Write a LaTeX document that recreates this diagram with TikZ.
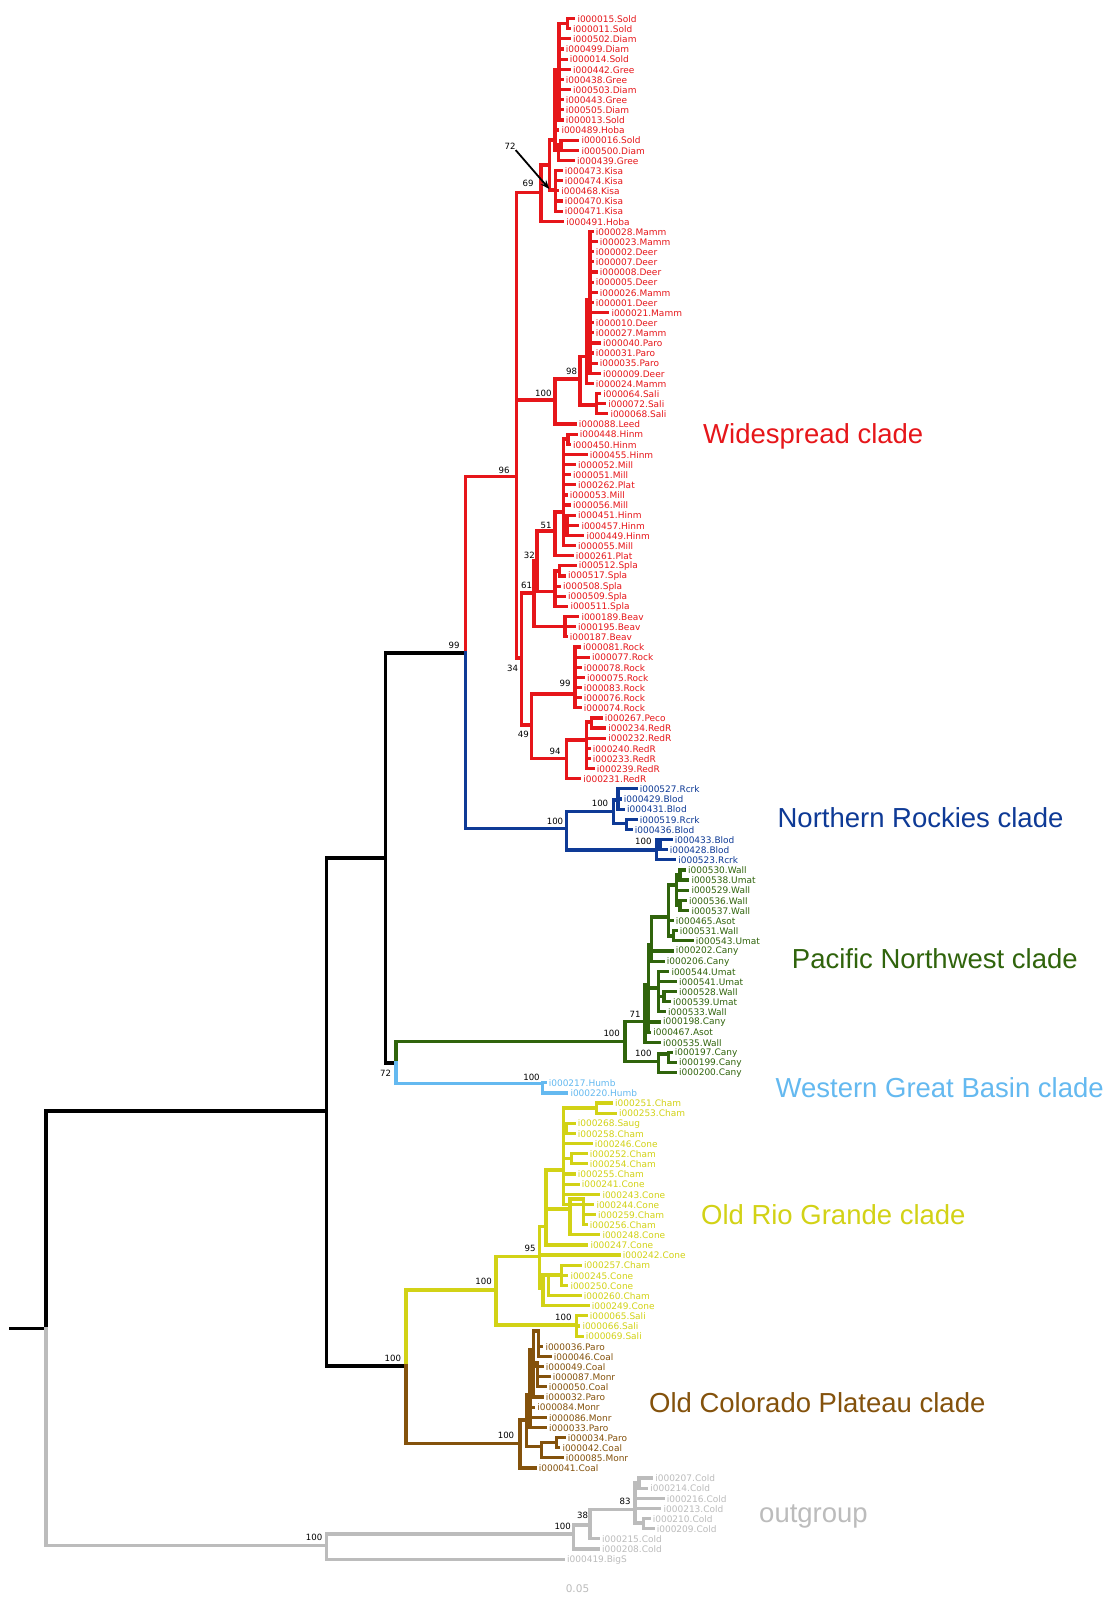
\documentclass[tikz,border=0pt]{standalone}
\usepackage{fontspec}
\usetikzlibrary{arrows.meta}
\newfontfamily\tipf{DejaVu Sans}
\newfontfamily\cladef{Liberation Sans}
\definecolor{cred}{RGB}{230,22,26}
\definecolor{cblue}{RGB}{14,58,150}
\definecolor{cgreen}{RGB}{48,100,12}
\definecolor{clblue}{RGB}{100,185,240}
\definecolor{cyel}{RGB}{210,210,22}
\definecolor{cbrown}{RGB}{132,82,12}
\definecolor{cgray}{RGB}{188,188,188}
\pgfmathdeclarefunction{ty}{1}{\pgfmathparse{18.6+(#1-1)*10.135}}
\tikzset{
  br/.style={line width=3.2pt, line cap=rect},
  tl/.style={anchor=west, inner sep=0pt, font=\tipf\fontsize{9}{9}\selectfont},
  bs/.style={inner sep=0pt, text=black, font=\tipf\fontsize{8.6}{9}\selectfont},
  cl/.style={anchor=base west, inner sep=0pt, font=\cladef\fontsize{27.5}{30}\selectfont}
}
\newcommand\TreeNd[4]{\coordinate (#1) at (#3,#4); \draw[br] (#2) |- (#1);}
\newcommand\TreeTp[4]{\coordinate (t#1) at (#3,{ty(#1)}); \draw[br] (#2) |- (t#1);
  \node[tl] (l#1) at ([xshift=3.6pt,yshift=-0.4pt]t#1) {#4};}
\begin{document}
\begin{tikzpicture}[x=1pt,y=-1pt]
\fill[white] (0,0) rectangle (1113,1600);
\useasboundingbox (0,0) rectangle (1113,1600);
% ---------- backbone (black)
\begin{scope}[black]
\coordinate (RS) at (10.2,1328.3);
\coordinate (RT) at (45.9,1328.3);
\draw[br] (RS) -- (RT);
\TreeNd{N1}{RT}{326.5}{1111}
\TreeNd{N2}{N1}{385.6}{858}
\TreeNd{N3}{N1}{406}{1366}
\TreeNd{N99}{N2}{465.2}{653}
\TreeNd{N72}{N2}{396}{1063}
\end{scope}
% ---------- red
\begin{scope}[cred]
\TreeNd{R96}{N99}{516.7}{476.4}
\TreeNd{N69}{R96}{541}{192.5}
\TreeNd{NX}{N69}{549.5}{165}
\TreeNd{U}{NX}{555}{140}
\TreeNd{U1}{U}{559}{70}
\TreeNd{U1a}{U1}{567.5}{23.7}
\TreeTp{1}{U1a}{573.7}{i000015.Sold}
\TreeTp{2}{U1a}{569.3}{i000011.Sold}
\TreeTp{3}{U1}{569.3}{i000502.Diam}
\TreeTp{4}{U1}{562}{i000499.Diam}
\TreeTp{5}{U1}{566}{i000014.Sold}
\TreeTp{6}{U1}{569.3}{i000442.Gree}
\TreeTp{7}{U1}{562}{i000438.Gree}
\TreeTp{8}{U1}{569.3}{i000503.Diam}
\TreeTp{9}{U1}{562}{i000443.Gree}
\TreeTp{10}{U1}{562}{i000505.Diam}
\TreeTp{11}{U1}{562}{i000013.Sold}
\TreeTp{12}{U}{557.7}{i000489.Hoba}
\TreeNd{U2}{U}{558.5}{150}
\TreeNd{U2a}{U2}{561}{145}
\TreeTp{13}{U2a}{577.7}{i000016.Sold}
\TreeTp{14}{U2a}{577.7}{i000500.Diam}
\TreeTp{15}{U2}{573.3}{i000439.Gree}
\TreeNd{K}{NX}{555.5}{190}
\TreeTp{16}{K}{561}{i000473.Kisa}
\TreeTp{17}{K}{561}{i000474.Kisa}
\TreeTp{18}{K}{557.5}{i000468.Kisa}
\TreeTp{19}{K}{561}{i000470.Kisa}
\TreeTp{20}{K}{561}{i000471.Kisa}
\TreeTp{21}{N69}{562.5}{i000491.Hoba}
\TreeNd{R100}{R96}{555}{400}
\TreeNd{M98}{R100}{580}{379}
\TreeNd{M}{M98}{586.7}{356.7}
\TreeNd{M2}{M}{590}{300}
\TreeTp{22}{M2}{592}{i000028.Mamm}
\TreeTp{23}{M2}{596}{i000023.Mamm}
\TreeTp{24}{M2}{592}{i000002.Deer}
\TreeTp{25}{M2}{592}{i000007.Deer}
\TreeTp{26}{M2}{596}{i000008.Deer}
\TreeTp{27}{M2}{592}{i000005.Deer}
\TreeTp{28}{M2}{596}{i000026.Mamm}
\TreeTp{29}{M2}{592}{i000001.Deer}
\TreeTp{30}{M2}{607.7}{i000021.Mamm}
\TreeTp{31}{M2}{592}{i000010.Deer}
\TreeTp{32}{M2}{592}{i000027.Mamm}
\TreeTp{33}{M2}{599.3}{i000040.Paro}
\TreeTp{34}{M2}{592}{i000031.Paro}
\TreeTp{35}{M2}{596}{i000035.Paro}
\TreeTp{36}{M2}{599.3}{i000009.Deer}
\TreeTp{37}{M}{592}{i000024.Mamm}
\TreeNd{SA}{M98}{596.7}{405}
\TreeTp{38}{SA}{599.5}{i000064.Sali}
\TreeTp{39}{SA}{604.5}{i000072.Sali}
\TreeTp{40}{SA}{606.7}{i000068.Sali}
\TreeTp{41}{R100}{575}{i000088.Leed}
\TreeNd{N34}{R96}{521.7}{658}
\TreeNd{N61}{N34}{534}{593}
\TreeNd{N32}{N61}{537}{561}
\TreeNd{N51}{N32}{555}{531}
\TreeNd{H}{N51}{563.3}{512}
\TreeNd{H1}{H}{568}{439}
\TreeTp{42}{H1}{576}{i000448.Hinm}
\TreeTp{43}{H1}{569.3}{i000450.Hinm}
\TreeTp{44}{H}{586}{i000455.Hinm}
\TreeTp{45}{H}{574.3}{i000052.Mill}
\TreeTp{46}{H}{569.3}{i000051.Mill}
\TreeTp{47}{H}{574.3}{i000262.Plat}
\TreeTp{48}{H}{566}{i000053.Mill}
\TreeTp{49}{H}{569.3}{i000056.Mill}
\TreeNd{H2}{H}{567}{519}
\TreeTp{50}{H2}{574.3}{i000451.Hinm}
\TreeTp{51}{H2}{577.7}{i000457.Hinm}
\TreeTp{52}{H2}{582.7}{i000449.Hinm}
\TreeTp{53}{H}{574.3}{i000055.Mill}
\TreeTp{54}{N51}{572}{i000261.Plat}
\TreeNd{SP}{N32}{555}{591.7}
\TreeNd{S1}{SP}{559.3}{571}
\TreeTp{55}{S1}{575}{i000512.Spla}
\TreeTp{56}{S1}{564.3}{i000517.Spla}
\TreeTp{57}{SP}{559.3}{i000508.Spla}
\TreeTp{58}{SP}{564.3}{i000509.Spla}
\TreeTp{59}{SP}{566.7}{i000511.Spla}
\TreeNd{BV}{N61}{565}{626.7}
\TreeTp{60}{BV}{577.7}{i000189.Beav}
\TreeTp{61}{BV}{574.3}{i000195.Beav}
\TreeTp{62}{BV}{566}{i000187.Beav}
\TreeNd{N49}{N34}{531.7}{725}
\TreeNd{RK}{N49}{575}{694}
\TreeTp{63}{RK}{579.3}{i000081.Rock}
\TreeTp{64}{RK}{588.3}{i000077.Rock}
\TreeTp{65}{RK}{580}{i000078.Rock}
\TreeTp{66}{RK}{583.3}{i000075.Rock}
\TreeTp{67}{RK}{580}{i000083.Rock}
\TreeTp{68}{RK}{580}{i000076.Rock}
\TreeTp{69}{RK}{580}{i000074.Rock}
\TreeNd{N94}{N49}{566.7}{758.3}
\TreeNd{RA}{N94}{586.7}{740}
\TreeNd{RB}{RA}{591.7}{722}
\TreeTp{70}{RB}{601}{i000267.Peco}
\TreeTp{71}{RB}{604.5}{i000234.RedR}
\TreeTp{72}{RA}{604.5}{i000232.RedR}
\TreeTp{73}{RA}{589}{i000240.RedR}
\TreeTp{74}{RA}{589}{i000233.RedR}
\TreeTp{75}{RA}{593}{i000239.RedR}
\TreeTp{76}{N94}{579.5}{i000231.RedR}
\node[cl] (cwide) at (703,443.4) {Widespread clade};
\end{scope}
% ---------- blue
\begin{scope}[cblue]
\TreeNd{B100}{N99}{566.7}{828.3}
\TreeNd{BU}{B100}{613.3}{811.7}
\TreeNd{BU1}{BU}{618}{800}
\TreeTp{77}{BU1}{636}{i000527.Rcrk}
\TreeTp{78}{BU1}{620}{i000429.Blod}
\TreeTp{79}{BU1}{623.3}{i000431.Blod}
\TreeNd{BU2}{BU}{626.7}{823.3}
\TreeTp{80}{BU2}{636}{i000519.Rcrk}
\TreeTp{81}{BU2}{631}{i000436.Blod}
\TreeNd{BL}{B100}{656.7}{850}
\TreeNd{BL1}{BL}{660}{840}
\TreeTp{82}{BL1}{671}{i000433.Blod}
\TreeTp{83}{BL1}{666}{i000428.Blod}
\TreeTp{84}{BL}{674.5}{i000523.Rcrk}
\node[cl] (cnr) at (777.4,827) {Northern Rockies clade};
\end{scope}
% ---------- green
\begin{scope}[cgreen]
\TreeNd{G100}{N72}{625}{1041.7}
\TreeNd{G71}{G100}{645}{1021.7}
\TreeNd{GA}{G71}{648.3}{985}
\TreeNd{GB}{GA}{651.7}{945}
\TreeNd{GD}{GB}{668.3}{917}
\TreeNd{GW}{GD}{676.7}{885}
\TreeNd{GW1}{GW}{680}{875}
\TreeTp{85}{GW1}{684.3}{i000530.Wall}
\TreeTp{86}{GW1}{687.7}{i000538.Umat}
\TreeTp{87}{GW}{687.7}{i000529.Wall}
\TreeNd{GW2}{GW}{680}{905.5}
\TreeTp{88}{GW2}{685.3}{i000536.Wall}
\TreeTp{89}{GW2}{687.7}{i000537.Wall}
\TreeTp{90}{GD}{672}{i000465.Asot}
\TreeNd{GF}{GD}{673.3}{935.9}
\TreeTp{91}{GF}{676}{i000531.Wall}
\TreeTp{92}{GF}{692}{i000543.Umat}
\TreeTp{93}{GB}{672}{i000202.Cany}
\TreeTp{94}{GB}{663}{i000206.Cany}
\TreeNd{GC}{GA}{658.3}{988}
\TreeTp{95}{GC}{667.7}{i000544.Umat}
\TreeTp{96}{GC}{675.3}{i000541.Umat}
\TreeNd{GC1}{GC}{664}{996.6}
\TreeTp{97}{GC1}{675.3}{i000528.Wall}
\TreeTp{98}{GC1}{669.3}{i000539.Umat}
\TreeTp{99}{GC}{664.3}{i000533.Wall}
\TreeTp{100}{GA}{659.3}{i000198.Cany}
\TreeTp{101}{GA}{649.5}{i000467.Asot}
\TreeTp{102}{G71}{659.3}{i000535.Wall}
\TreeNd{GL}{G100}{658.3}{1061.7}
\TreeNd{GL1}{GL}{668.3}{1054}
\TreeTp{103}{GL1}{671}{i000197.Cany}
\TreeTp{104}{GL1}{675.3}{i000199.Cany}
\TreeTp{105}{GL}{675.3}{i000200.Cany}
\node[cl] (cpn) at (791.7,968.8) {Pacific Northwest clade};
\end{scope}
% ---------- light blue
\begin{scope}[clblue]
\TreeNd{LB}{N72}{542.7}{1083.5}
\TreeTp{106}{LB}{545}{i000217.Humb}
\TreeTp{107}{LB}{566.7}{i000220.Humb}
\node[cl] (cwgb) at (775.4,1097.3) {Western Great Basin clade};
\end{scope}
% ---------- yellow
\begin{scope}[cyel]
\TreeNd{Y100}{N3}{496}{1290}
\TreeNd{Y95}{Y100}{539.3}{1256.7}
\TreeNd{YA}{Y95}{546}{1226.7}
\TreeNd{YG}{YA}{563.3}{1170}
\TreeNd{YG1}{YG}{596.7}{1108}
\TreeTp{108}{YG1}{611.3}{i000251.Cham}
\TreeTp{109}{YG1}{615.3}{i000253.Cham}
\TreeNd{YG2}{YG}{566.7}{1128}
\TreeTp{110}{YG2}{574}{i000268.Saug}
\TreeTp{111}{YG2}{574}{i000258.Cham}
\TreeTp{112}{YG}{591}{i000246.Cone}
\TreeNd{YG3}{YG}{571.7}{1158.7}
\TreeTp{113}{YG3}{586}{i000252.Cham}
\TreeTp{114}{YG3}{586}{i000254.Cham}
\TreeTp{115}{YG}{574}{i000255.Cham}
\TreeTp{116}{YG}{578}{i000241.Cone}
\TreeTp{117}{YG}{598.7}{i000243.Cone}
\TreeTp{118}{YG}{592.7}{i000244.Cone}
\TreeNd{YF}{YA}{570}{1209}
\TreeNd{YF1}{YF}{583.3}{1199}
\TreeTp{119}{YF1}{594.3}{i000259.Cham}
\TreeTp{120}{YF1}{586}{i000256.Cham}
\TreeTp{121}{YF}{598.7}{i000248.Cone}
\TreeTp{122}{YA}{586.7}{i000247.Cone}
\TreeTp{123}{Y95}{619}{i000242.Cone}
\TreeNd{YB}{Y95}{543}{1288.3}
\TreeNd{YB1}{YB}{548.3}{1275}
\TreeNd{YB2}{YB1}{561.7}{1275}
\TreeTp{124}{YB2}{580.3}{i000257.Cham}
\TreeTp{125}{YB2}{566.7}{i000245.Cone}
\TreeTp{126}{YB2}{566.7}{i000250.Cone}
\TreeTp{127}{YB1}{580}{i000260.Cham}
\TreeTp{128}{YB}{588}{i000249.Cone}
\TreeNd{YS}{Y100}{576.7}{1325}
\TreeTp{129}{YS}{586}{i000065.Sali}
\TreeTp{130}{YS}{578.7}{i000066.Sali}
\TreeTp{131}{YS}{582}{i000069.Sali}
\node[cl] (corg) at (700.9,1224.8) {Old Rio Grande clade};
\end{scope}
% ---------- brown
\begin{scope}[cbrown]
\TreeNd{BR}{N3}{520}{1443.3}
\TreeNd{BRB}{BR}{526.7}{1420}
\TreeNd{BRE}{BRB}{530}{1395}
\TreeNd{BRC}{BRE}{533.3}{1350}
\TreeNd{BRC2}{BRC}{538.3}{1331}
\TreeTp{132}{BRC2}{541.7}{i000036.Paro}
\TreeTp{133}{BRC2}{550}{i000046.Coal}
\TreeTp{134}{BRC}{542}{i000049.Coal}
\TreeNd{BRC3}{BRC}{537.3}{1363}
\TreeTp{135}{BRC3}{549}{i000087.Monr}
\TreeTp{136}{BRC3}{545}{i000050.Coal}
\TreeTp{137}{BRC}{542}{i000032.Paro}
\TreeTp{138}{BRE}{533.5}{i000084.Monr}
\TreeTp{139}{BRE}{545.3}{i000086.Monr}
\TreeTp{140}{BRE}{545.3}{i000033.Paro}
\TreeNd{BRD}{BRB}{541.7}{1446.7}
\TreeNd{BRD1}{BRD}{556.7}{1442.6}
\TreeTp{141}{BRD1}{564}{i000034.Paro}
\TreeTp{142}{BRD1}{558.7}{i000042.Coal}
\TreeTp{143}{BRD}{562}{i000085.Monr}
\TreeTp{144}{BR}{535}{i000041.Coal}
\node[cl] (cocp) at (648.9,1412.6) {Old Colorado Plateau clade};
\end{scope}
% ---------- gray outgroup
\begin{scope}[cgray]
\TreeNd{G0}{RT}{326.5}{1545.6}
\TreeNd{GN100}{G0}{573.3}{1534}
\TreeNd{GN38}{GN100}{590}{1525}
\TreeNd{GN83}{GN38}{635}{1509.3}
\TreeNd{GN83a}{GN83}{639}{1483}
\TreeTp{145}{GN83a}{651.5}{i000207.Cold}
\TreeTp{146}{GN83a}{646.5}{i000214.Cold}
\TreeTp{147}{GN83}{663}{i000216.Cold}
\TreeTp{148}{GN83}{659.8}{i000213.Cold}
\TreeNd{GN83b}{GN83}{643.3}{1523}
\TreeTp{149}{GN83b}{649}{i000210.Cold}
\TreeTp{150}{GN83b}{653}{i000209.Cold}
\TreeTp{151}{GN38}{598.3}{i000215.Cold}
\TreeTp{152}{GN100}{598.3}{i000208.Cold}
\TreeTp{153}{G0}{563.3}{i000419.BigS}
\node[cl, anchor=base west] (cout) at (759,1522) {outgroup};
\node[inner sep=0pt, font=\tipf\fontsize{10.5}{11}\selectfont] (scl) at (577.5,1589) {0.05};
\end{scope}
% ---------- support values
\node[bs] (s72a) at (510,146.7) {72};
\coordinate (s72t) at (549.3,189);
\draw[-{Stealth[length=9pt,width=7pt]}, line width=1.8pt, black] (s72a.south east) -- (s72t);
\node[bs] (s69) at (528,183.5) {69};
\node[bs] (s100a) at (543.3,393.3) {100};
\node[bs] (s98) at (571.7,371.7) {98};
\node[bs] (s96) at (504,470.3) {96};
\node[bs] (s51) at (546,525) {51};
\node[bs] (s32) at (529.3,555) {32};
\node[bs] (s61) at (526.7,585.7) {61};
\node[bs] (s34) at (512.7,668.3) {34};
\node[bs] (s99a) at (565,683.3) {99};
\node[bs] (s49) at (523.3,734) {49};
\node[bs] (s94) at (555,751.7) {94};
\node[bs] (s99b) at (454,645.8) {99};
\node[bs] (s100b) at (555,821.7) {100};
\node[bs] (s100c) at (600,803.3) {100};
\node[bs] (s100d) at (643.3,841.7) {100};
\node[bs] (s100e) at (611.7,1033.3) {100};
\node[bs] (s71) at (635,1014) {71};
\node[bs] (s100f) at (643.3,1053.3) {100};
\node[bs] (s100g) at (531.5,1077.3) {100};
\node[bs] (s72b) at (385.6,1073.3) {72};
\node[bs] (s100h) at (483.6,1281.4) {100};
\node[bs] (s95) at (530,1248.3) {95};
\node[bs] (s100i) at (563.3,1317.3) {100};
\node[bs] (s100j) at (392.8,1358) {100};
\node[bs] (s100k) at (506,1435) {100};
\node[bs] (s100l) at (314.2,1537.4) {100};
\node[bs] (s100m) at (562.7,1526.7) {100};
\node[bs] (s38) at (582.7,1515) {38};
\node[bs] (s83) at (625,1501.7) {83};
\end{tikzpicture}
\end{document}
